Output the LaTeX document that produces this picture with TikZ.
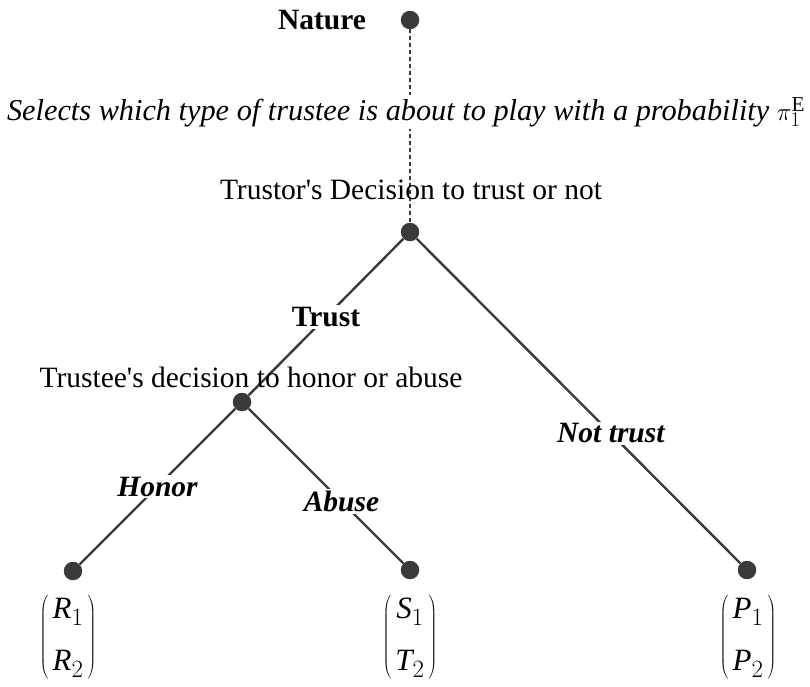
\documentclass[tikz,border=0pt]{standalone}
\usepackage{fontspec}
\setmainfont{Liberation Serif}[Ligatures=TeXOff]
\DeclareMathSizes{31}{31}{24}{18}
\begin{document}
\begin{tikzpicture}[x=1pt,y=-1pt,
  every node/.style={font=\fontsize{29.5}{35}\selectfont, inner sep=0pt},
  dot/.style={circle, fill=dotgray, minimum size=18.5pt, inner sep=0pt},
  edge/.style={draw=linegray, line width=2.4pt},
  dashededge/.style={draw=linegray, line width=2pt, dash pattern=on 4pt off 3pt},
  lbl/.style={fill=white, inner sep=2pt},
  payoff/.style={anchor=center, font=\fontsize{31}{37}\selectfont}]
\definecolor{dotgray}{HTML}{3A3A3A}
\definecolor{linegray}{HTML}{3A3A3A}
\useasboundingbox (0,0) rectangle (810,686);

% decision nodes
\node[dot] (nat) at (410,20) {};
\node[dot] (tor) at (410,232) {};
\node[dot] (tee) at (242,402) {};
\node[dot] (lr) at (73,571) {};
\node[dot] (ls) at (410,570) {};
\node[dot] (lp) at (747,570) {};

% edges
\draw[dashededge] (nat) -- (tor);
\draw[edge] (tor) -- (tee);
\draw[edge] (tor) -- (lp);
\draw[edge] (tee) -- (lr);
\draw[edge] (tee) -- (ls);

% texts
\node[font=\fontsize{29.5}{35}\selectfont\bfseries] (natlbl) at (322,20) {Nature};
\node[lbl, font=\fontsize{30.3}{36}\selectfont] (sel) at (406,112) {\itshape Selects which type of trustee is about to play with a probability $\pi_1^{\mathrm{E}}$};
\node (torlbl) at (411,190) {Trustor's Decision to trust or not};
\node (teelbl) at (251,377) {Trustee's decision to honor or abuse};

\path (tor) -- node[lbl, pos=0.5, font=\fontsize{29.5}{35}\selectfont\bfseries] (trust) {Trust} (tee);
\path (tor) -- node[lbl, pos=0.6, font=\fontsize{29.5}{35}\selectfont\bfseries\itshape] (nottrust) {Not trust} (lp);
\path (tee) -- node[lbl, pos=0.5, font=\fontsize{29.5}{35}\selectfont\bfseries\itshape] (honor) {Honor} (lr);
\path (tee) -- node[lbl, pos=0.6, font=\fontsize{29.5}{35}\selectfont\bfseries\itshape] (abuse) {Abuse} (ls);

% payoffs
\node[payoff] (pr) at (68,637) {$\left(\begin{array}{@{\,}c@{\,}}\mathit{R}_1\\[15pt]\mathit{R}_2\end{array}\right)$};
\node[payoff] (ps) at (410,637) {$\left(\begin{array}{@{\,}c@{\,}}\mathit{S}_1\\[15pt]\mathit{T}_2\end{array}\right)$};
\node[payoff] (pp) at (748,637) {$\left(\begin{array}{@{\,}c@{\,}}\mathit{P}_1\\[15pt]\mathit{P}_2\end{array}\right)$};
\end{tikzpicture}
\end{document}
